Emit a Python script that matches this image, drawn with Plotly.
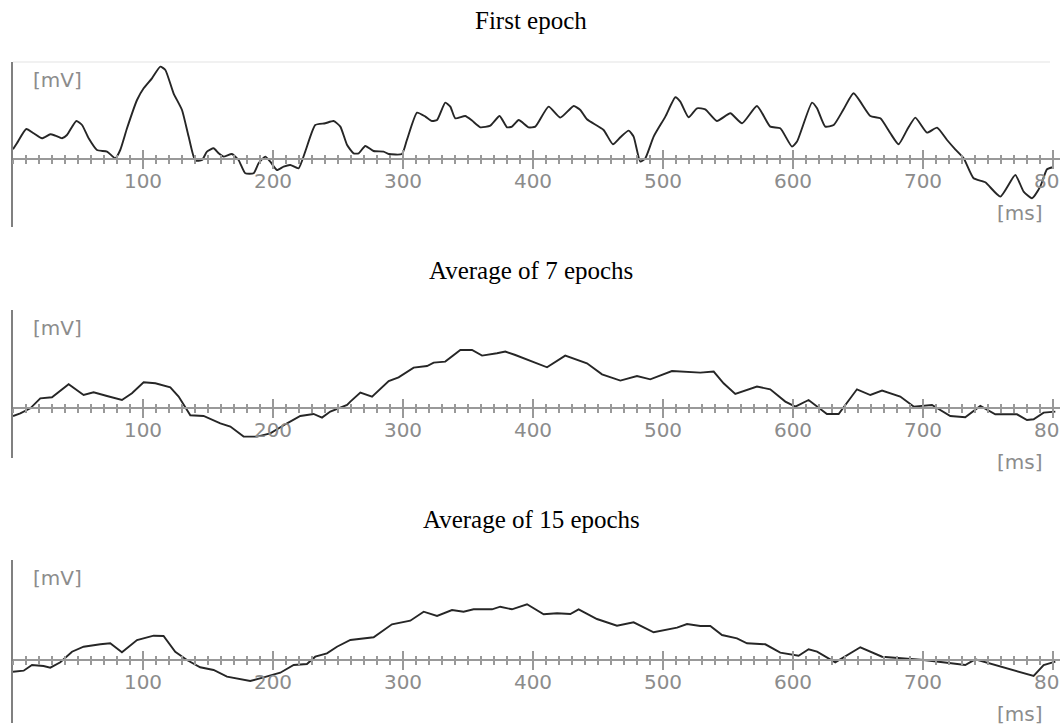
import plotly.graph_objects as go

# ---------------- data (time in ms, amplitude in arbitrary mV units) ----------------
T1 = [0, 3, 10.2, 15.9, 22.3, 28.7, 32.5, 37.7, 41.5, 48.7, 53.1, 58.2, 64.6, 72.3, 78.7,
      82.5, 87.7, 95.4, 100.5, 106.9, 113.3, 117.2, 123.5, 130, 135.1, 140.2, 145.4, 149.2,
      154.3, 158.2, 162, 168.4, 173.5, 178.7, 185.1, 188.9, 194.1, 197.9, 203, 208.2, 213.3,
      219.7, 224.8, 232.5, 240.2, 246.6, 251.8, 257, 262, 265.9, 271, 277.4, 285.1, 289,
      299.2, 303, 310.8, 317.2, 322.3, 326.2, 332.5, 336.4, 340.2, 347.9, 353.1, 359.5,
      367.2, 374.3, 380, 383.8, 389, 396.6, 401.8, 412, 421, 431.3, 436.4, 441.5, 454.3,
      461.5, 467.2, 473.6, 477.4, 482.5, 486.4, 492.8, 501.8, 509.5, 513.3, 519.7, 526.2,
      532.5, 541.5, 551.8, 560.8, 572.3, 582.5, 590.2, 599.2, 603.1, 614.6, 618.5, 624.8,
      631.3, 638.9, 646.6, 659.5, 667.2, 674.9, 681.2, 687.7, 694.1, 703.1, 710.8, 718.5,
      724.8, 731.3, 738.9, 747.9, 759.5, 771, 777.4, 783.8, 790.2, 795.4, 800]
V1 = [10, 16, 30.3, 26, 21, 25, 23.7, 21, 24.3, 38.3, 34.3, 21, 9.3, 7.7, 1,
      9.3, 31, 59.3, 71, 81, 92.7, 89.3, 66, 49.3, 22.7, -1.3, -0.7, 7.7,
      11, 6, 2.7, 5.3, -0.7, -14, -14, -4, 2.7, -2.3, -10.7, -7.3, -5.7,
      -9, 7.7, 34.3, 36, 38.3, 32.7, 14.3, 6, 6, 13.3, 8.3, 7.7, 5.3,
      5.3, 19.3, 46.7, 42.7, 38.3, 39.3, 56.7, 52.7, 41, 43.3, 38.7, 32,
      33.7, 43.3, 32, 32.7, 39.3, 32, 32.7, 52.7, 41.7, 53.3, 49.3, 40, 29.3,
      15, 22, 28.7, 22.7, -2.3, 1, 22.7, 42.7, 62, 57.7, 42, 51,
      50, 38.3, 46, 36, 53.3, 32.7, 31, 12.7, 17.7, 56.7, 51, 32.7,
      34.3, 50, 66, 43.3, 41, 26, 15, 29.3, 41.7, 26.7, 31.7, 19.3,
      10, 1, -19, -23, -37.3, -15.7, -32.3, -39, -27.3, -10, -8]

T7 = [0, 5.6, 13.3, 21, 30, 42.8, 54.3, 62, 72.3, 83.8, 91.5, 100.5, 109.5, 121, 127.4,
      136.4, 146.6, 159.5, 167.2, 177.4, 187.7, 197.9, 210.8, 221, 231.2, 237.7, 244.1,
      257, 259.5, 267.2, 276.2, 289, 296.6, 308.2, 318.5, 323.6, 332.5, 344.1, 353.1,
      360.8, 372.3, 378.7, 386.4, 397.9, 410.8, 424.8, 441.5, 453.1, 467.2, 480, 490.2,
      506.9, 528.7, 539, 546.6, 555.6, 572.3, 582.5, 594.1, 601.8, 612, 626.1, 635.1,
      649.2, 659.5, 668.5, 682.5, 692.8, 706.9, 721, 732.5, 744.1, 755.6, 772.3, 780,
      785.1, 792.8, 801.8]
V7 = [-7.7, -5, 0, 10, 11, 24, 13.3, 16, 12.3, 8.3, 15, 26, 25, 21, 11.7,
      -7, -7.7, -15, -18.3, -28.3, -28.3, -25, -15, -7.7, -5.7, -9.3, -3.3,
      3.3, 6.7, 15.7, 11.7, 27.3, 31, 40.7, 42.3, 45.7, 46.7, 58.3, 58.3,
      52.7, 55, 56.7, 53.3, 47.7, 41, 52.7, 45, 34, 27.7, 32.3, 29,
      37.3, 35.7, 36.7, 25, 14.3, 21.7, 19, 6.7, 1.7, 8.3, -5.7, -5.7,
      19, 13.3, 17.7, 11.7, 1.7, 3.3, -7.7, -9, 2.3, -6, -6, -11.7,
      -11, -4.3, -3.3]

T15 = [0, 8.2, 14.6, 23.5, 28.7, 36.4, 45.4, 54.3, 67.2, 74.8, 83.8, 95.4, 108.2, 115.8,
       124.8, 133.8, 144, 154.3, 164.6, 182.5, 192.8, 205.6, 215.9, 226.1, 232.5, 241.5,
       249.2, 259.5, 277.4, 291.5, 305.6, 315.9, 326.2, 337.7, 346.6, 354.3, 368.5, 374.8,
       383.8, 395.4, 408.2, 418.5, 428.7, 435.1, 449.2, 464.6, 477.4, 492.8, 510.8, 518.5,
       528.7, 536.4, 545.4, 556.9, 564.6, 578.7, 590.2, 597.9, 604.3, 612, 618.5, 632.5,
       651.8, 668.5, 700.5, 718.5, 732.5, 740.2, 755.6, 785.1, 792.8, 801.8]
V15 = [-11.7, -10.7, -5, -6, -7.7, -2.3, 8.3, 13.3, 15.7, 16.7, 7.7, 20, 24.3, 24,
       8.3, 0, -7.3, -10, -16.7, -21, -17.3, -12.7, -5, -4, 3.3, 6.7,
       13.3, 20, 22.7, 35.7, 39.3, 48.3, 44, 50, 48.3, 50.7, 50.7, 53.3,
       50.7, 55.7, 45.7, 46.7, 46, 50.7, 41, 34.3, 37.7, 27.7, 32.3, 36,
       34, 34, 25, 21.7, 16.7, 15.7, 7.3, 6, 4.3, 10.7, 8.3, -2.3,
       12.7, 3.3, 0, -2.7, -5, 0.7, -5, -16, -5, -1.7]

TITLES = ["First epoch", "Average of 7 epochs", "Average of 15 epochs"]
TICK_VALS = [100, 200, 300, 400, 500, 600, 700, 800]
TICK_TEXT = ["100", "200", "300", "400", "500", "600", "700", "800"]
Y_LABEL = "[mV]"
X_LABEL = "[ms]"

# ---------------- layout geometry ----------------
W, H = 1060, 725
ML = 13
PLOT_W = W - ML


def py(p):  # pixel row -> paper fraction
    return 1 - p / H


def pxf(p):  # pixel column -> paper fraction
    return (p - ML) / PLOT_W


X_RANGE = [0, PLOT_W / 1.3]
# (top px, bottom px, y range)
PANELS = [
    (62, 227, [-67.7, 97.3]),
    (310, 458, [-49.7, 98.3]),
    (560, 723, [-63.0, 100.0]),
]
TITLE_Y = [21, 270.5, 519.5]
LINE_SHAPES = ["spline", "linear", "linear"]

AX_GRAY = "#999999"
LBL_GRAY = "#8c8c8c"
LBL_FONT = dict(family="DejaVu Sans, Verdana, sans-serif", size=20, color=LBL_GRAY)

fig = go.Figure()
series = [(T1, V1), (T7, V7), (T15, V15)]

layout = dict(
    width=W, height=H,
    margin=dict(l=ML, r=0, t=0, b=0, autoexpand=False),
    paper_bgcolor="white", plot_bgcolor="white",
    showlegend=False, hovermode=False,
)
annotations = []
shapes = []

for i, ((top, bot, yr), (t, v)) in enumerate(zip(PANELS, series)):
    n = i + 1
    xs = "" if n == 1 else str(n)
    xo = str(n + 3)
    d0, d1 = py(bot), py(top)
    zero_pos = d0 + (0 - yr[0]) / (yr[1] - yr[0]) * (d1 - d0)

    fig.add_trace(go.Scatter(x=t, y=v, mode="lines", xaxis="x" + xs, yaxis="y" + xs,
                             line=dict(color="#262626", width=1.9, shape=LINE_SHAPES[i],
                                       smoothing=0.5),
                             cliponaxis=False))
    # invisible trace to carry the overlay axis (upward tick halves)
    fig.add_trace(go.Scatter(x=[None], y=[None], mode="lines", xaxis="x" + xo, yaxis="y" + xs,
                             showlegend=False))

    common = dict(range=X_RANGE, domain=[0, 1], anchor="free", position=zero_pos,
                  showgrid=False, zeroline=False, fixedrange=True, automargin=False)
    layout["xaxis" + xs] = dict(
        **common, showline=True, linecolor=AX_GRAY, linewidth=2,
        tickmode="array", tickvals=TICK_VALS, ticktext=TICK_TEXT,
        ticks="outside", ticklen=9, tickwidth=2, tickcolor=AX_GRAY,
        tickfont=LBL_FONT, ticklabelstandoff=-5, ticklabeloverflow="allow",
        minor=dict(tickmode="linear", tick0=0, dtick=10, ticks="outside",
                   ticklen=4, tickwidth=2, tickcolor=AX_GRAY, showgrid=False),
    )
    layout["xaxis" + xo] = dict(
        **common, overlaying="x" + xs, showline=False,
        tickmode="array", tickvals=TICK_VALS, showticklabels=False,
        ticks="inside", ticklen=9, tickwidth=2, tickcolor=AX_GRAY,
        minor=dict(tickmode="linear", tick0=0, dtick=10, ticks="inside",
                   ticklen=4, tickwidth=2, tickcolor=AX_GRAY, showgrid=False),
    )
    layout["yaxis" + xs] = dict(
        range=yr, domain=[d0, d1], anchor="x" + xs, automargin=False,
        showline=True, linecolor="#808080", linewidth=2,
        showticklabels=False, ticks="", showgrid=False, zeroline=False, fixedrange=True,
    )

    annotations.append(dict(text=TITLES[i], x=pxf(531), y=py(TITLE_Y[i]), xref="paper", yref="paper",
                            xanchor="center", yanchor="middle", showarrow=False,
                            font=dict(family="Liberation Serif, Times New Roman, serif", size=25, color="black")))
    annotations.append(dict(text=Y_LABEL, x=pxf(31), y=py(top + 18), xref="paper", yref="paper",
                            xanchor="left", yanchor="middle", showarrow=False, font=LBL_FONT))
    zero_px = (1 - zero_pos) * H
    annotations.append(dict(text=X_LABEL, x=pxf(1045), y=py(zero_px + 54), xref="paper", yref="paper",
                            xanchor="right", yanchor="middle", showarrow=False, font=LBL_FONT))

# faint frame line at the top of the first panel
shapes.append(dict(type="line", xref="paper", yref="paper", x0=0, x1=pxf(1050),
                   y0=py(62), y1=py(62), line=dict(color="#ececec", width=1.5)))

layout["annotations"] = annotations
layout["shapes"] = shapes
fig.update_layout(**layout)

fig.write_html("out.html")
